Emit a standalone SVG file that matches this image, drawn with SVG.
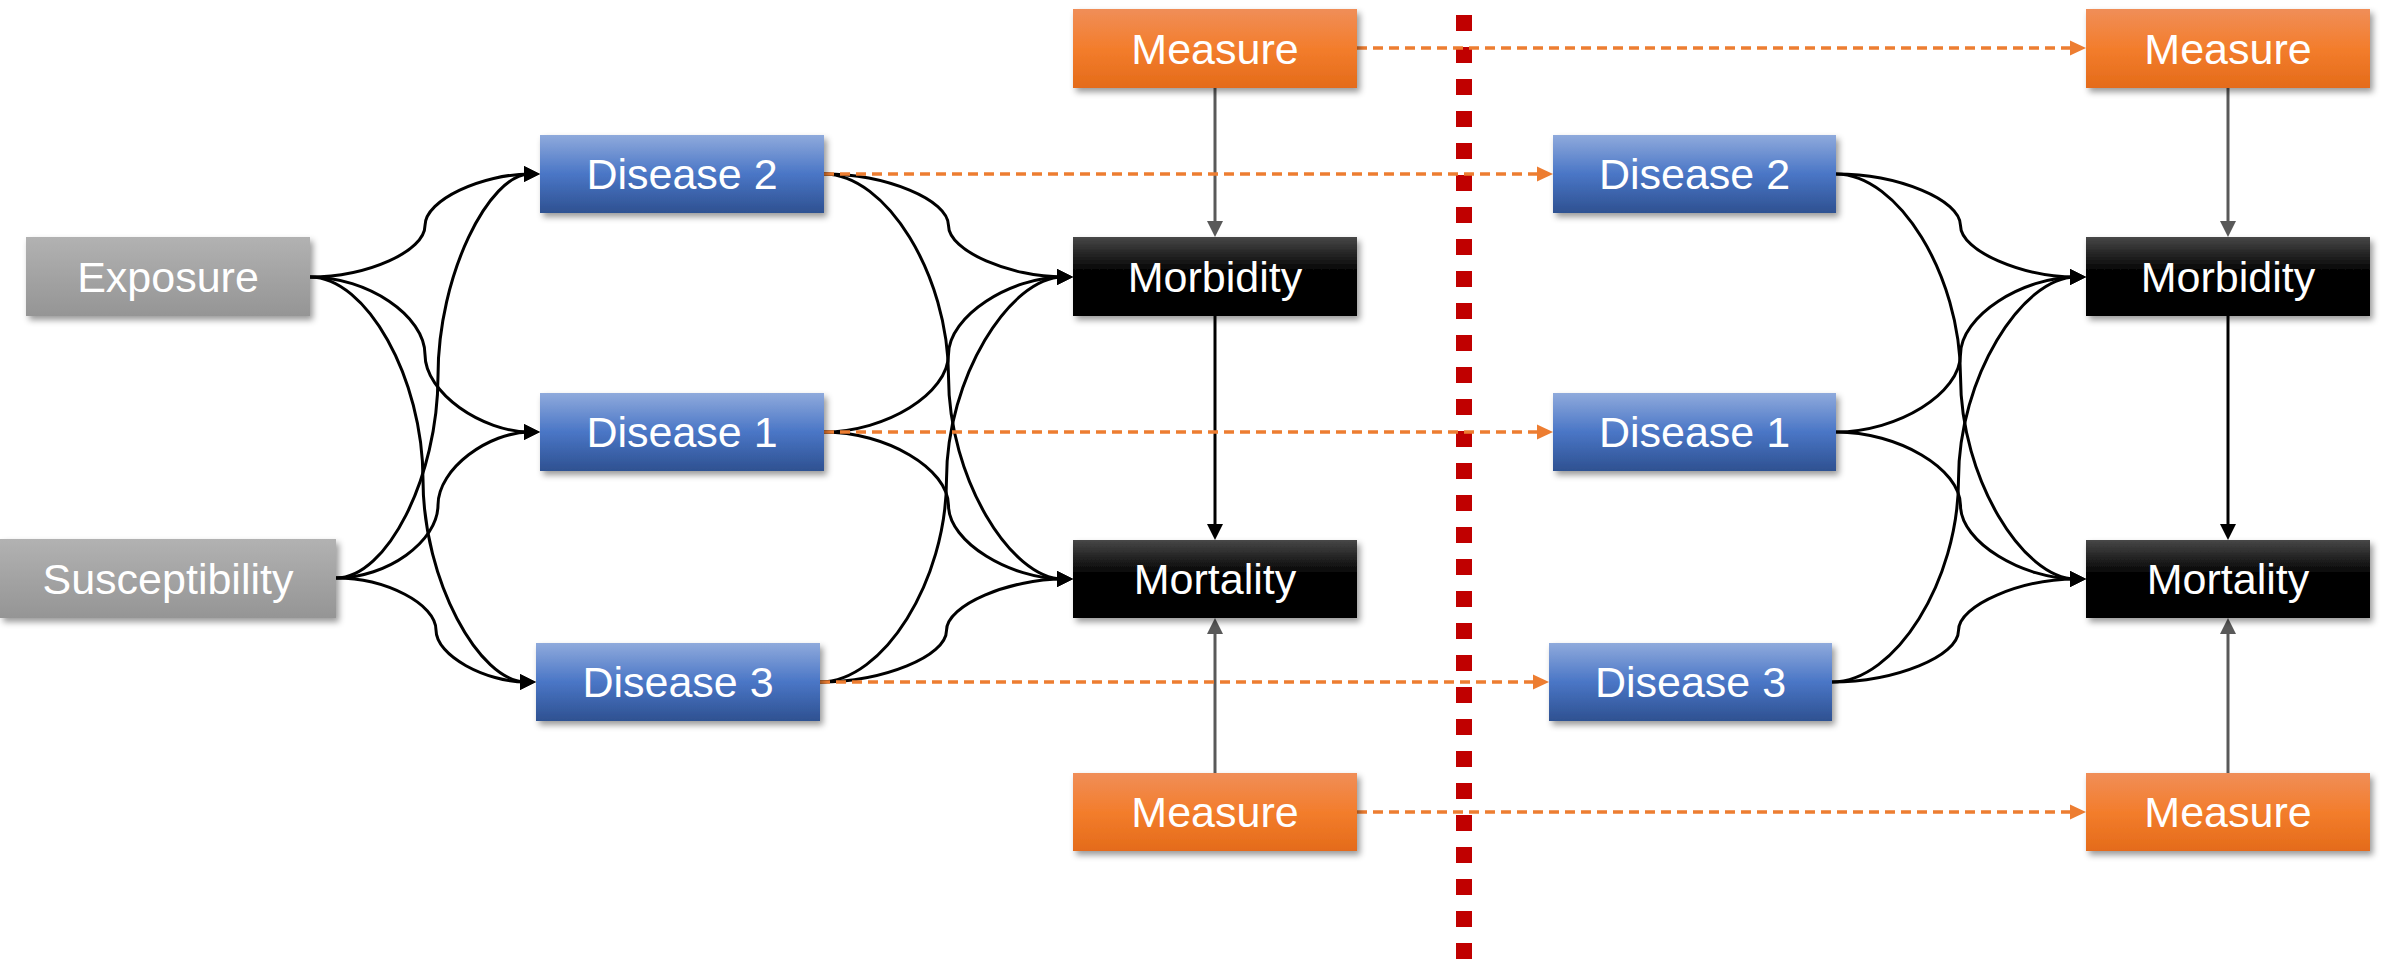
<svg xmlns="http://www.w3.org/2000/svg" width="2381" height="959" viewBox="0 0 2381 959">
<style>
.box{filter:url(#sh)}
.lbl{font-family:"Liberation Sans",Arial,sans-serif;font-size:43px;fill:#ffffff;text-anchor:middle}
.cur{fill:none;stroke:#000;stroke-width:3;marker-end:url(#ab)}
.vg{fill:none;stroke:#595959;stroke-width:3;marker-end:url(#ag)}
.vb{fill:none;stroke:#000;stroke-width:3;marker-end:url(#abv)}
.od{fill:none;stroke:#ED7D31;stroke-width:3.5;stroke-dasharray:10 6;marker-end:url(#ao)}
</style>
<defs>
<linearGradient id="gGray" x1="0" y1="0" x2="0" y2="1"><stop offset="0" stop-color="#b2b2b2"/><stop offset="0.5" stop-color="#a3a3a3"/><stop offset="1" stop-color="#959595"/></linearGradient>
<linearGradient id="gBlue" x1="0" y1="0" x2="0" y2="1"><stop offset="0" stop-color="#8faadc"/><stop offset="0.5" stop-color="#4a76c6"/><stop offset="1" stop-color="#2e5191"/></linearGradient>
<linearGradient id="gOrange" x1="0" y1="0" x2="0" y2="1"><stop offset="0" stop-color="#f08e58"/><stop offset="0.5" stop-color="#f37d2c"/><stop offset="1" stop-color="#e46b1a"/></linearGradient>
<linearGradient id="gBlack" x1="0" y1="0" x2="0" y2="1"><stop offset="0" stop-color="#474747"/><stop offset="0.45" stop-color="#000000"/><stop offset="1" stop-color="#000000"/></linearGradient>
<filter id="sh" x="-10%" y="-20%" width="125%" height="150%"><feDropShadow dx="3" dy="4" stdDeviation="3" flood-color="#000" flood-opacity="0.4"/></filter>
<marker id="ab" markerUnits="userSpaceOnUse" markerWidth="16" markerHeight="16" viewBox="0 0 16 16" refX="6" refY="8" orient="auto"><path d="M0,0 L16,8 L0,16 z" fill="#000"/></marker>
<marker id="abv" markerUnits="userSpaceOnUse" markerWidth="16" markerHeight="16" viewBox="0 0 16 16" refX="6" refY="8" orient="auto"><path d="M0,0 L16,8 L0,16 z" fill="#000"/></marker>
<marker id="ag" markerUnits="userSpaceOnUse" markerWidth="16" markerHeight="16" viewBox="0 0 16 16" refX="6" refY="8" orient="auto"><path d="M0,0 L16,8 L0,16 z" fill="#595959"/></marker>
<marker id="ao" markerUnits="userSpaceOnUse" markerWidth="16" markerHeight="16" viewBox="0 0 16 16" refX="6" refY="8" orient="auto"><path d="M0,0.5 L16,8 L0,15.5 z" fill="#ED7D31"/></marker>
</defs>
<rect x="0" y="0" width="2381" height="959" fill="#ffffff"/>
<line id="divider" x1="1464" y1="15" x2="1464" y2="959" stroke="#C00000" stroke-width="16" stroke-dasharray="16 16"/>
<g id="connectors">
<path class="cur" d="M310,277 C367.5,277 425,251.25 425,225.5 C425,199.75 482.5,174 530,174"/>
<path class="cur" d="M310,277 C367.5,277 425,315.75 425,354.5 C425,393.25 482.5,432 530,432"/>
<path class="cur" d="M310,277 C366.5,277 423,378.25 423,479.5 C423,580.75 479.5,682 526,682"/>
<path class="cur" d="M336,578 C387,578 438,477 438,376 C438,275 489,174 530,174"/>
<path class="cur" d="M336,578 C387,578 438,541.5 438,505 C438,468.5 489,432 530,432"/>
<path class="cur" d="M336,578 C386,578 436,604 436,630 C436,656 486,682 526,682"/>
<path class="cur" d="M824,174 C886.25,174 948.5,199.75 948.5,225.5 C948.5,251.25 1010.75,277 1063,277"/>
<path class="cur" d="M824,174 C886.25,174 948.5,275.25 948.5,376.5 C948.5,477.75 1010.75,579 1063,579"/>
<path class="cur" d="M824,432 C886.25,432 948.5,393.25 948.5,354.5 C948.5,315.75 1010.75,277 1063,277"/>
<path class="cur" d="M824,432 C886.25,432 948.5,468.75 948.5,505.5 C948.5,542.25 1010.75,579 1063,579"/>
<path class="cur" d="M820,682 C883.25,682 946.5,580.75 946.5,479.5 C946.5,378.25 1009.75,277 1063,277"/>
<path class="cur" d="M820,682 C883.25,682 946.5,656.25 946.5,630.5 C946.5,604.75 1009.75,579 1063,579"/>
<path class="cur" d="M1836,174 C1898.25,174 1960.5,199.75 1960.5,225.5 C1960.5,251.25 2022.75,277 2076,277"/>
<path class="cur" d="M1836,174 C1898.25,174 1960.5,275.25 1960.5,376.5 C1960.5,477.75 2022.75,579 2076,579"/>
<path class="cur" d="M1836,432 C1898.25,432 1960.5,393.25 1960.5,354.5 C1960.5,315.75 2022.75,277 2076,277"/>
<path class="cur" d="M1836,432 C1898.25,432 1960.5,468.75 1960.5,505.5 C1960.5,542.25 2022.75,579 2076,579"/>
<path class="cur" d="M1832,682 C1895.25,682 1958.5,580.75 1958.5,479.5 C1958.5,378.25 2021.75,277 2076,277"/>
<path class="cur" d="M1832,682 C1895.25,682 1958.5,656.25 1958.5,630.5 C1958.5,604.75 2021.75,579 2076,579"/>
<path class="vg" d="M1215,88 L1215,227"/>
<path class="vb" d="M1215,316 L1215,530"/>
<path class="vg" d="M1215,773 L1215,628"/>
<path class="vg" d="M2228,88 L2228,227"/>
<path class="vb" d="M2228,316 L2228,530"/>
<path class="vg" d="M2228,773 L2228,628"/>
<path class="od" d="M1357,48 L2076,48"/>
<path class="od" d="M824,174 L1543,174"/>
<path class="od" d="M824,432 L1543,432"/>
<path class="od" d="M820,682 L1539,682"/>
<path class="od" d="M1357,812 L2076,812"/>
</g>
<g id="exposure"><rect class="box" x="26" y="237" width="284" height="79" fill="url(#gGray)"/><text class="lbl" x="168" y="292">Exposure</text></g>
<g id="susceptibility"><rect class="box" x="0" y="539" width="336" height="79" fill="url(#gGray)"/><text class="lbl" x="168" y="594">Susceptibility</text></g>
<g id="disease2-a"><rect class="box" x="540" y="135" width="284" height="78" fill="url(#gBlue)"/><text class="lbl" x="682" y="189">Disease 2</text></g>
<g id="disease1-a"><rect class="box" x="540" y="393" width="284" height="78" fill="url(#gBlue)"/><text class="lbl" x="682" y="447">Disease 1</text></g>
<g id="disease3-a"><rect class="box" x="536" y="643" width="284" height="78" fill="url(#gBlue)"/><text class="lbl" x="678" y="697">Disease 3</text></g>
<g id="measure-top-a"><rect class="box" x="1073" y="9" width="284" height="79" fill="url(#gOrange)"/><text class="lbl" x="1215" y="64">Measure</text></g>
<g id="morbidity-a"><rect class="box" x="1073" y="237" width="284" height="79" fill="url(#gBlack)"/><text class="lbl" x="1215" y="292">Morbidity</text></g>
<g id="mortality-a"><rect class="box" x="1073" y="540" width="284" height="78" fill="url(#gBlack)"/><text class="lbl" x="1215" y="594">Mortality</text></g>
<g id="measure-bottom-a"><rect class="box" x="1073" y="773" width="284" height="78" fill="url(#gOrange)"/><text class="lbl" x="1215" y="827">Measure</text></g>
<g id="disease2-b"><rect class="box" x="1553" y="135" width="283" height="78" fill="url(#gBlue)"/><text class="lbl" x="1694.5" y="189">Disease 2</text></g>
<g id="disease1-b"><rect class="box" x="1553" y="393" width="283" height="78" fill="url(#gBlue)"/><text class="lbl" x="1694.5" y="447">Disease 1</text></g>
<g id="disease3-b"><rect class="box" x="1549" y="643" width="283" height="78" fill="url(#gBlue)"/><text class="lbl" x="1690.5" y="697">Disease 3</text></g>
<g id="measure-top-b"><rect class="box" x="2086" y="9" width="284" height="79" fill="url(#gOrange)"/><text class="lbl" x="2228" y="64">Measure</text></g>
<g id="morbidity-b"><rect class="box" x="2086" y="237" width="284" height="79" fill="url(#gBlack)"/><text class="lbl" x="2228" y="292">Morbidity</text></g>
<g id="mortality-b"><rect class="box" x="2086" y="540" width="284" height="78" fill="url(#gBlack)"/><text class="lbl" x="2228" y="594">Mortality</text></g>
<g id="measure-bottom-b"><rect class="box" x="2086" y="773" width="284" height="78" fill="url(#gOrange)"/><text class="lbl" x="2228" y="827">Measure</text></g>
</svg>
